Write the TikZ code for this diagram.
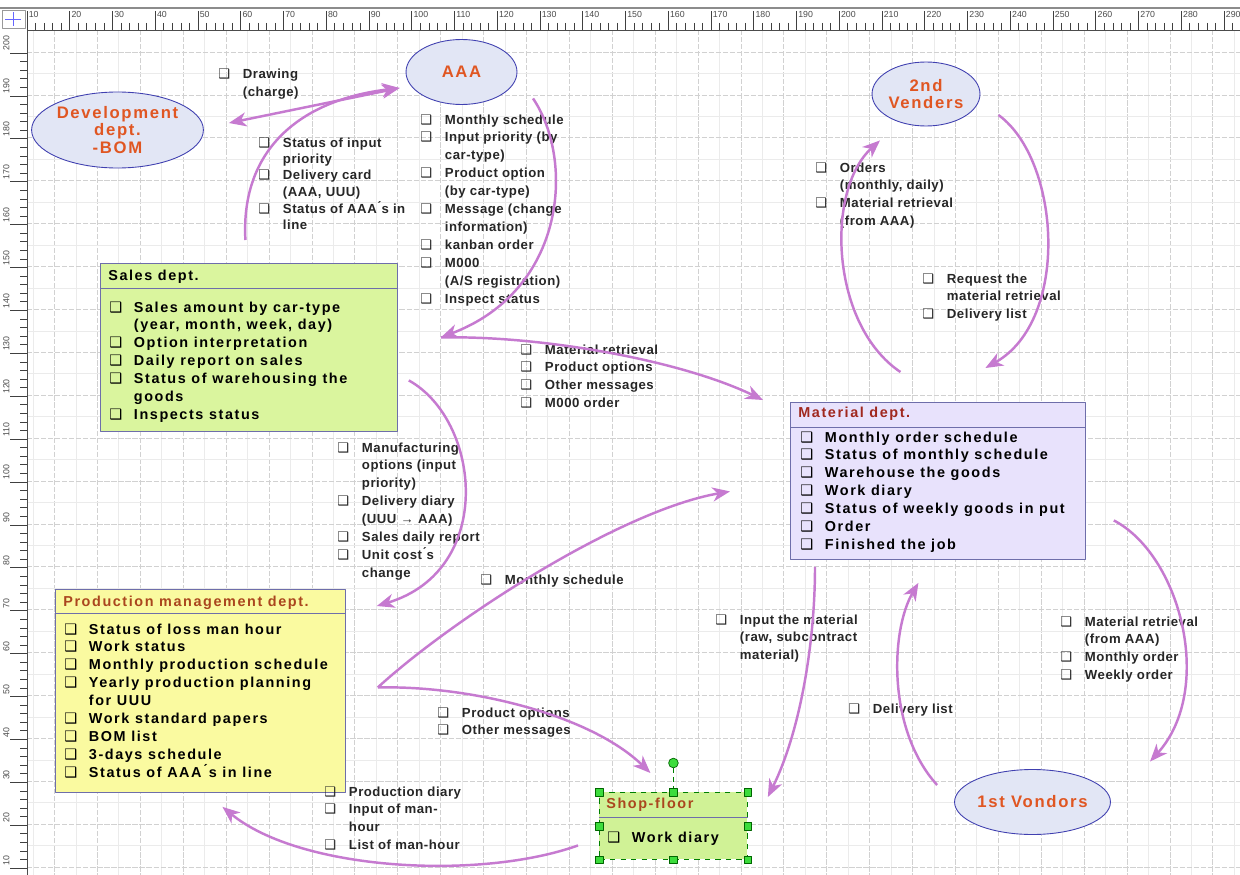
\documentclass[tikz,border=0pt]{standalone}
\usepackage{fontspec}
\setmainfont{Liberation Sans}
\newfontfamily\boxfont[LetterSpace=11]{Liberation Sans}
\newfontfamily\lblfont[LetterSpace=4]{Liberation Sans}
\newfontfamily\orgfont[LetterSpace=10]{Liberation Sans}
\newfontfamily\symfont{DejaVu Sans}
\usetikzlibrary{positioning,shapes.geometric,arrows.meta,calc}

\definecolor{flowc}{RGB}{198,122,208}
\definecolor{orgfill}{RGB}{226,230,245}
\definecolor{orgline}{RGB}{64,64,176}
\definecolor{orgtext}{RGB}{224,86,34}
\definecolor{deptline}{RGB}{110,110,170}
\definecolor{salesfill}{RGB}{218,245,158}
\definecolor{prodfill}{RGB}{250,250,160}
\definecolor{matfill}{RGB}{232,226,252}
\definecolor{shopfill}{RGB}{208,242,150}
\definecolor{matred}{RGB}{160,40,30}
\definecolor{prodred}{RGB}{170,70,30}
\definecolor{hgreen}{RGB}{60,220,60}

\newcommand{\cb}{\makebox[14pt][l]{\symfont\char"2751}}
\newcommand{\lst}[1]{\begin{tabular}[t]{@{}l@{}l@{}}#1\end{tabular}}

\begin{document}
\begin{tikzpicture}[x=0.02cm, y=-0.02cm, line join=round,
    org/.style={ellipse, draw=orgline, fill=orgfill, line width=0.5pt, inner sep=0pt, align=center, text=orgtext, font=\orgfont\bfseries\fontsize{9.5}{10}\selectfont},
    dept/.style={rectangle, draw=deptline, line width=0.5pt, anchor=north west, inner sep=0pt},
    hdr/.style={anchor=base west, inner sep=0pt, font=\boxfont\bfseries\fontsize{8.2}{10.2}\selectfont},
    items/.style={anchor=base west, inner sep=0pt, font=\boxfont\bfseries\fontsize{8.2}{10.2}\selectfont},
    lbl/.style={anchor=base west, inner sep=0pt, text=black!85, font=\lblfont\bfseries\fontsize{7.5}{10.2}\selectfont},
    flow/.style={draw=flowc, line width=1.4pt, -{Stealth[length=10pt, width=8pt, inset=3pt]}},
    handle/.style={draw=green!40!black, fill=hgreen, minimum size=4.5pt, inner sep=0pt, line width=0.4pt},
    gridA/.style={draw=black!8, line width=0.4pt},
    gridB/.style={draw=black!18, line width=0.4pt, dash pattern=on 3pt off 1pt}]
    \useasboundingbox (0,0) rectangle (1240,875);
    \fill[white] (0,0) rectangle (1240,875);

    % grid
    \foreach \i in {0,...,56}{
        \pgfmathsetmacro\gx{33+21.45*\i}
        \pgfmathtruncatemacro\odd{mod(\i,2)}
        \ifnum\odd=1 \draw[gridB] (\gx,30) -- (\gx,875); \else \draw[gridA] (\gx,30) -- (\gx,875); \fi
    }
    \foreach \j in {0,...,39}{
        \pgfmathsetmacro\gy{30.55+21.45*\j}
        \pgfmathtruncatemacro\odd{mod(\j,2)}
        \ifnum\odd=1 \draw[gridB] (27,\gy) -- (1240,\gy); \else \draw[gridA] (27,\gy) -- (1240,\gy); \fi
    }

    % rulers
    \fill[white] (0,8) rectangle (1240,30);
    \fill[white] (0,30) rectangle (27,875);
    \draw[black!45, line width=1.5pt] (0,8) -- (1240,8);
    \draw[black!70] (27,30) -- (1240,30);
    \draw[black!70] (27,30) -- (27,875);
    \draw[black!40] (2,10) rectangle (25,28);
    \draw[blue!60] (13,12) -- (13,26) (5,19) -- (21,19);
    \foreach \i in {0,...,141}{
        \pgfmathsetmacro\tx{27+8.55*\i}
        \pgfmathtruncatemacro\rem{mod(\i,5)}
        \ifnum\rem=0
            \draw[black!75] (\tx,11) -- (\tx,30);
            \pgfmathtruncatemacro\val{10*(\i/5+1)}
            \node[anchor=north west, inner sep=0pt, text=black!70, font=\fontsize{5}{5}\selectfont] at (\tx+1.5,11) {\val};
        \else
            \draw[black!75] (\tx,23) -- (\tx,30);
        \fi
    }
    \foreach \i in {0,...,97}{
        \pgfmathsetmacro\ty{53+8.58*\i}
        \pgfmathtruncatemacro\rem{mod(\i,5)}
        \ifnum\rem=0
            \draw[black!75] (10,\ty) -- (27,\ty);
            \pgfmathtruncatemacro\val{200-10*(\i/5)}
            \node[rotate=90, anchor=north west, inner sep=0pt, text=black!70, font=\fontsize{5}{5}\selectfont] at (3,\ty-2) {\val};
        \else
            \draw[black!75] (20,\ty) -- (27,\ty);
        \fi
    }

    % outside parties
    \node[org, minimum width=2.78cm, minimum height=1.52cm] (dev) at (117.5,130) {Development\\dept.\\-BOM};
    \node[org, minimum width=2.22cm, minimum height=1.3cm] (aaa) at (461.5,72) {AAA};
    \node[org, minimum width=2.16cm, minimum height=1.28cm] (ven2) at (926,94) {2nd\\Venders};
    \node[org, minimum width=3.02cm, minimum height=1.3cm] (ven1) at (1032.5,802) {1st Vondors};

    % departments
    \node[dept, fill=salesfill, minimum width=5.94cm, minimum height=3.36cm] (sales) at (100,263) {};
    \draw[deptline, line width=0.5pt] ($(sales.north west)+(0,25)$) -- ($(sales.north east)+(0,25)$);
    \node[hdr] (salesHdr) at ($(sales.north west)+(8,17)$) {Sales dept.};
    \node[items] (salesList) at ($(sales.north west)+(9,49)$) {\lst{
        \cb & Sales amount by car-type\\
            & (year, month, week, day)\\
        \cb & Option interpretation\\
        \cb & Daily report on sales\\
        \cb & Status of warehousing the\\
            & goods\\
        \cb & Inspects status}};

    \node[dept, fill=matfill, minimum width=5.9cm, minimum height=3.14cm] (mat) at (790,402) {};
    \draw[deptline, line width=0.5pt] ($(mat.north west)+(0,25)$) -- ($(mat.north east)+(0,25)$);
    \node[hdr, text=matred] (matHdr) at ($(mat.north west)+(8,15)$) {Material dept.};
    \node[items] (matList) at ($(mat.north west)+(10,40)$) {\lst{
        \cb & Monthly order schedule\\
        \cb & Status of monthly schedule\\
        \cb & Warehouse the goods\\
        \cb & Work diary\\
        \cb & Status of weekly goods in put\\
        \cb & Order\\
        \cb & Finished the job}};

    \node[dept, fill=prodfill, minimum width=5.8cm, minimum height=4.06cm] (prod) at (55,589) {};
    \draw[deptline, line width=0.5pt] ($(prod.north west)+(0,24)$) -- ($(prod.north east)+(0,24)$);
    \node[hdr, text=prodred] (prodHdr) at ($(prod.north west)+(8,17)$) {Production management dept.};
    \node[items] (prodList) at ($(prod.north west)+(9,45)$) {\lst{
        \cb & Status of loss man hour\\
        \cb & Work status\\
        \cb & Monthly production schedule\\
        \cb & Yearly production planning\\
            & for UUU\\
        \cb & Work standard papers\\
        \cb & BOM list\\
        \cb & 3-days schedule\\
        \cb & Status of AAA\'{}s in line}};

    \node[dept, fill=shopfill, draw=green!50!black, dashed, minimum width=2.96cm, minimum height=1.34cm] (shop) at (599,792) {};
    \draw[deptline, line width=0.5pt] ($(shop.north west)+(0,25)$) -- ($(shop.north east)+(0,25)$);
    \node[hdr, text=prodred] (shopHdr) at ($(shop.north west)+(7,16)$) {Shop-floor};
    \node[items] (shopList) at ($(shop.north west)+(8,50)$) {\lst{\cb & Work diary}};
    \node[handle, circle, minimum size=5.5pt] (rot) at ([shift={(0,-29)}]shop.north) {};
    \draw[green!50!black, densely dashed, line width=0.4pt] (rot) -- (shop.north);
    \foreach \a in {north west,north,north east,east,south east,south,south west,west}
        \node[handle] at (shop.\a) {};

    % labels
    \node[lbl] (lblDraw) at (218,79) {\lst{\cb & Drawing\\ & (charge)}};
    \node[lbl, font=\lblfont\bfseries\fontsize{7.5}{9.35}\selectfont] (lblStat) at (258,147) {\lst{
        \cb & Status of input\\ & priority\\
        \cb & Delivery card\\ & (AAA, UUU)\\
        \cb & Status of AAA\'{}s in\\ & line}};
    \node[lbl] (lblAAA) at (420,124) {\lst{
        \cb & Monthly schedule\\
        \cb & Input priority (by\\ & car-type)\\
        \cb & Product option\\ & (by car-type)\\
        \cb & Message (change\\ & information)\\
        \cb & kanban order\\
        \cb & M000\\ & (A/S registration)\\
        \cb & Inspect status}};
    \node[lbl] (lblMat) at (520,354) {\lst{
        \cb & Material retrieval\\
        \cb & Product options\\
        \cb & Other messages\\
        \cb & M000 order}};
    \node[lbl] (lblManu) at (337,452) {\lst{
        \cb & Manufacturing\\ & options (input\\ & priority)\\
        \cb & Delivery diary\\ & (UUU \textrightarrow{} AAA)\\
        \cb & Sales daily report\\
        \cb & Unit cost\'{}s\\ & change}};
    \node[lbl] (lblMonth) at (480,584) {\lst{\cb & Monthly schedule}};
    \node[lbl] (lblOrd) at (815,172) {\lst{
        \cb & Orders\\ & (monthly, daily)\\
        \cb & Material retrieval\\ & (from AAA)}};
    \node[lbl] (lblReq) at (922,283) {\lst{
        \cb & Request the\\ & material retrieval\\
        \cb & Delivery list}};
    \node[lbl] (lblInput) at (715,624) {\lst{
        \cb & Input the material\\ & (raw, subcontract\\ & material)}};
    \node[lbl] (lblRet) at (1060,626) {\lst{
        \cb & Material retrieval\\ & (from AAA)\\
        \cb & Monthly order\\
        \cb & Weekly order}};
    \node[lbl] (lblDel) at (848,713) {\lst{\cb & Delivery list}};
    \node[lbl] (lblProd) at (437,717) {\lst{
        \cb & Product options\\
        \cb & Other messages}};
    \node[lbl] (lblDiary) at (324,796) {\lst{
        \cb & Production diary\\
        \cb & Input of man-\\ & hour\\
        \cb & List of man-hour}};

    % flows
    \draw[flow, {Stealth[length=10pt, width=8pt, inset=3pt]}-{Stealth[length=10pt, width=8pt, inset=3pt]}]
        ([shift={(25,-7)}]dev.east) -- ([shift={(-6,16)}]aaa.west);
    \draw[flow] ([shift={(-3.5,-23)}]sales.north) .. controls +(-5,-90) and +(-100,12) .. ([shift={(-6,16)}]aaa.west);
    \draw[flow] ([shift={(71.5,-6.5)}]aaa.south) .. controls +(42,62) and +(125,-47) .. ([shift={(43,-10)}]sales.east);
    \draw[flow] ([shift={(43,-10)}]sales.east) .. controls +(100,-2) and +(-83,-40) .. ([shift={(-27,-2)}]mat.north west);
    \draw[flow] ([shift={(11,33)}]sales.east) .. controls +(72,40) and +(119,-36) .. ([shift={(31,17)}]prod.north east);
    \draw[flow] ([shift={(32,-3.5)}]prod.east) .. controls +(73,-67) and +(-110,19) .. ([shift={(-60,10.5)}]mat.west);
    \draw[flow] ([shift={(32,-3.5)}]prod.east) .. controls +(93,-2) and +(-60,-58) .. ([shift={(-23,-19)}]shop.north);
    \draw[flow] ([shift={(-21,19.5)}]shop.west) .. controls +(-98,35) and +(78,64) .. ([shift={(22,14)}]prod.south);
    \draw[flow] ([shift={(25,7)}]mat.south west) .. controls +(0,74) and +(33,-67) .. ([shift={(20,5)}]shop.north east);
    \draw[flow] ([shift={(-17,-17)}]ven1.west) .. controls +(-50,-55) and +(-28,48) .. ([shift={(-19.5,23)}]mat.south);
    \draw[flow] ([shift={(28,39.5)}]mat.east) .. controls +(67,35) and +(65,-72) .. ([shift={(117.5,-7.5)}]ven1.north);
    \draw[flow] ([shift={(-37.5,-30)}]mat.north) .. controls +(-70,-47) and +(-55,50) .. ([shift={(-46,14)}]ven2.south);
    \draw[flow] ([shift={(18,21)}]ven2.east) .. controls +(62,45) and +(85,-48) .. ([shift={(47.5,-34)}]mat.north);
\end{tikzpicture}
\end{document}
